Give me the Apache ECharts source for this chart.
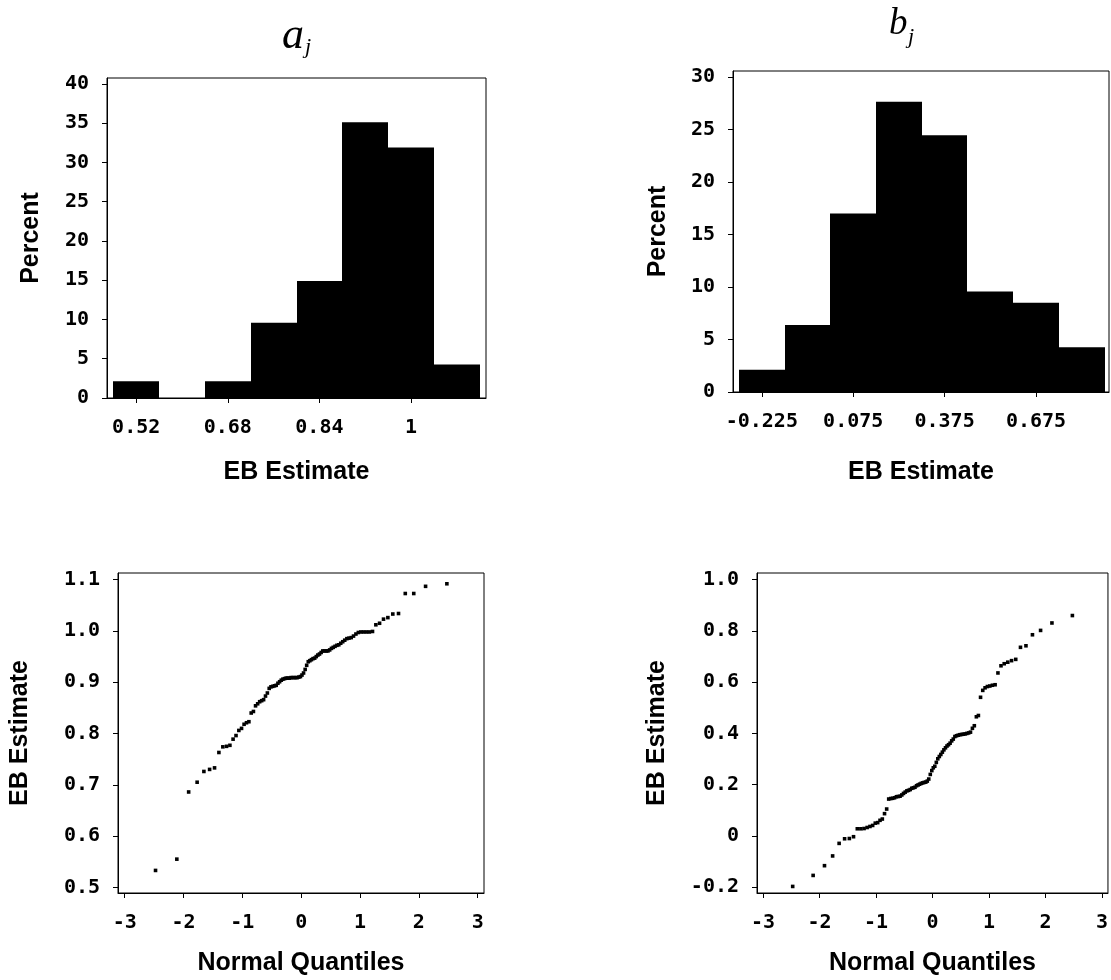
<!DOCTYPE html>
<html>
<head>
<meta charset="utf-8">
<script src="https://cdn.jsdelivr.net/npm/echarts@6/dist/echarts.min.js"></script>
<style>
html,body{margin:0;padding:0;background:#fff;}
#chart{width:1111px;height:980px;}
</style>
</head>
<body>
<div id="chart"></div>
<script>
// ---------- data ----------
var aBinEdges = [0.48, 0.56, 0.64, 0.72, 0.80, 0.88, 0.96, 1.04, 1.12];
var aPercent = [2.13, 0, 2.13, 9.57, 14.89, 35.11, 31.91, 4.26];
var aTicks = [0.52, 0.68, 0.84, 1];

var bBinEdges = [-0.30, -0.15, 0.00, 0.15, 0.30, 0.45, 0.60, 0.75, 0.90];
var bPercent = [2.13, 6.38, 17.02, 27.66, 24.47, 9.57, 8.51, 4.26];
var bTicks = [-0.225, 0.075, 0.375, 0.675];

var aPctTicks = [0, 5, 10, 15, 20, 25, 30, 35, 40];
var bPctTicks = [0, 5, 10, 15, 20, 25, 30];

var normalQuantiles = [
 -2.476, -2.114, -1.913, -1.769, -1.654, -1.557, -1.473, -1.399, -1.332, -1.269,
 -1.212, -1.158, -1.108, -1.060, -1.014, -0.971, -0.930, -0.889, -0.850, -0.812,
 -0.776, -0.740, -0.706, -0.672, -0.639, -0.607, -0.575, -0.544, -0.514, -0.484,
 -0.454, -0.425, -0.396, -0.367, -0.339, -0.311, -0.283, -0.256, -0.229, -0.201,
 -0.174, -0.147, -0.120, -0.093, -0.067, -0.040, -0.013,
  0.013, 0.040, 0.067, 0.093, 0.120, 0.147, 0.174, 0.201, 0.229, 0.256,
  0.283, 0.311, 0.339, 0.367, 0.396, 0.425, 0.454, 0.484, 0.514, 0.544,
  0.575, 0.607, 0.639, 0.672, 0.706, 0.740, 0.776, 0.812, 0.850, 0.889,
  0.930, 0.971, 1.014, 1.060, 1.108, 1.158, 1.212, 1.269, 1.332, 1.399,
  1.473, 1.557, 1.654, 1.769, 1.913, 2.114, 2.476
];

var aSorted = [
 0.533, 0.555, 0.686, 0.705, 0.726, 0.730, 0.733, 0.763, 0.774, 0.775,
 0.777, 0.789, 0.796, 0.806, 0.810, 0.818, 0.821, 0.823, 0.840, 0.843,
 0.854, 0.858, 0.862, 0.864, 0.866, 0.873, 0.879, 0.888, 0.891, 0.892,
 0.893, 0.894, 0.898, 0.901, 0.904, 0.906, 0.907, 0.908, 0.908, 0.908,
 0.909, 0.909, 0.909, 0.909, 0.909, 0.910, 0.911, 0.914, 0.918, 0.925,
 0.933, 0.940, 0.942, 0.944, 0.946, 0.947, 0.950, 0.953, 0.955, 0.958,
 0.961, 0.961, 0.961, 0.961, 0.963, 0.966, 0.968, 0.970, 0.972, 0.973,
 0.976, 0.979, 0.982, 0.985, 0.986, 0.987, 0.990, 0.994, 0.997, 0.998,
 0.998, 0.998, 0.998, 0.999, 1.012, 1.015, 1.023, 1.026, 1.033, 1.034,
 1.073, 1.073, 1.087, 1.092
];

var bSorted = [
 -0.197, -0.154, -0.116, -0.078, -0.029, -0.011, -0.010, -0.003, 0.028, 0.028,
  0.029, 0.033, 0.037, 0.041, 0.050, 0.052, 0.061, 0.066, 0.087, 0.105,
  0.144, 0.146, 0.147, 0.149, 0.153, 0.154, 0.155, 0.160, 0.166, 0.171,
  0.176, 0.178, 0.181, 0.186, 0.188, 0.190, 0.196, 0.199, 0.202, 0.205,
  0.207, 0.209, 0.210, 0.214, 0.222, 0.240, 0.255, 0.266, 0.272, 0.287,
  0.301, 0.310, 0.318, 0.327, 0.336, 0.344, 0.351, 0.356, 0.362, 0.371,
  0.378, 0.388, 0.391, 0.393, 0.395, 0.396, 0.397, 0.398, 0.400, 0.402,
  0.405, 0.420, 0.430, 0.465, 0.470, 0.541, 0.568, 0.578, 0.583, 0.585,
  0.588, 0.590, 0.636, 0.664, 0.672, 0.678, 0.684, 0.689, 0.736, 0.742,
  0.785, 0.802, 0.831, 0.860
];

var qTicks = [-3, -2, -1, 0, 1, 2, 3];
var aEstTicks = [0.5, 0.6, 0.7, 0.8, 0.9, 1.0, 1.1];
var bEstTicks = [-0.2, 0, 0.2, 0.4, 0.6, 0.8, 1.0];

// ---------- build ----------
function binData(edges, pct) {
  var out = [];
  for (var i = 0; i < pct.length; i++) out.push([edges[i], edges[i + 1], pct[i]]);
  return out;
}
function pairs(xs, ys) {
  var out = [];
  for (var i = 0; i < xs.length; i++) out.push([xs[i], ys[i]]);
  return out;
}
function histRender(params, api) {
  var lo = api.value(0), hi = api.value(1), h = api.value(2);
  if (!h) return null;
  var p0 = api.coord([lo, h]);
  var p1 = api.coord([hi, 0]);
  var x0 = Math.round(p0[0]), x1 = Math.round(p1[0]);
  return {
    type: 'rect',
    shape: { x: x0, y: p0[1], width: x1 - x0, height: p1[1] - p0[1] },
    style: { fill: '#000' }
  };
}

var tickFont = { fontFamily: '"DejaVu Sans Mono", monospace', fontWeight: 'bold', fontSize: 20, color: '#000' };
var nameFont = { fontFamily: '"Liberation Sans", Arial, sans-serif', fontWeight: 'bold', fontSize: 25, color: '#000' };

function xAx(gi, min, max, ticks, fmt, nameGap, name) {
  return {
    type: 'value', gridIndex: gi, min: min, max: max,
    name: name, nameLocation: 'middle', nameGap: nameGap, nameTextStyle: nameFont,
    axisLine: { show: true, onZero: false, lineStyle: { color: '#000', width: 1 } },
    axisTick: { show: true, inside: false, length: 5, customValues: ticks, lineStyle: { color: '#000' } },
    axisLabel: Object.assign({ show: true, margin: 20, customValues: ticks, formatter: fmt }, tickFont),
    splitLine: { show: false }
  };
}
function yAx(gi, min, max, ticks, fmt, nameGap, name) {
  return {
    type: 'value', gridIndex: gi, min: min, max: max,
    name: name, nameLocation: 'middle', nameGap: nameGap, nameTextStyle: nameFont, nameRotate: 90,
    axisLine: { show: true, onZero: false, lineStyle: { color: '#000', width: 1 } },
    axisTick: { show: true, inside: false, length: 5, customValues: ticks, lineStyle: { color: '#000' } },
    axisLabel: Object.assign({ show: true, margin: 18, customValues: ticks, formatter: fmt }, tickFont),
    splitLine: { show: false }
  };
}
function fmtA(v) { return v === 1 ? '1' : v.toFixed(2); }
function fmtB(v) { return v.toFixed(3); }
function fmtInt(v) { return String(Math.round(v)); }
function fmt1(v) { return v.toFixed(1); }
function fmtB1(v) { return Math.abs(v) < 1e-9 ? '0' : v.toFixed(1); }

var gridStyle = { show: true, borderColor: '#000', borderWidth: 1, backgroundColor: 'transparent' };

var option = {
  animation: false,
  backgroundColor: '#fff',
  grid: [
    Object.assign({ left: 107, top: 78, width: 379, height: 320 }, gridStyle),
    Object.assign({ left: 733, top: 71, width: 376, height: 321 }, gridStyle),
    Object.assign({ left: 118, top: 573, width: 366, height: 320 }, gridStyle),
    Object.assign({ left: 757, top: 573, width: 351, height: 320 }, gridStyle)
  ],
  xAxis: [
    xAx(0, 0.469, 1.131, aTicks, fmtA, 62, 'EB Estimate'),
    xAx(1, -0.3196, 0.9147, bTicks, fmtB, 68, 'EB Estimate'),
    xAx(2, -3.114, 3.107, qTicks, fmtInt, 58, 'Normal Quantiles'),
    xAx(3, -3.108, 3.106, qTicks, fmtInt, 58, 'Normal Quantiles')
  ],
  yAxis: [
    yAx(0, 0, 40.76, aPctTicks, fmtInt, 63, 'Percent'),
    yAx(1, 0, 30.6, bPctTicks, fmtInt, 62, 'Percent'),
    yAx(2, 0.489, 1.113, aEstTicks, fmt1, 85, 'EB Estimate'),
    yAx(3, -0.2226, 1.026, bEstTicks, fmtB1, 87, 'EB Estimate')
  ],
  series: [
    { type: 'custom', xAxisIndex: 0, yAxisIndex: 0, renderItem: histRender,
      encode: { x: [0, 1], y: 2 }, data: binData(aBinEdges, aPercent) },
    { type: 'custom', xAxisIndex: 1, yAxisIndex: 1, renderItem: histRender,
      encode: { x: [0, 1], y: 2 }, data: binData(bBinEdges, bPercent) },
    { type: 'scatter', xAxisIndex: 2, yAxisIndex: 2, symbol: 'rect', symbolSize: 3.6,
      itemStyle: { color: '#000', opacity: 1 }, data: pairs(normalQuantiles, aSorted) },
    { type: 'scatter', xAxisIndex: 3, yAxisIndex: 3, symbol: 'rect', symbolSize: 3.6,
      itemStyle: { color: '#000', opacity: 1 }, data: pairs(normalQuantiles, bSorted) }
  ],
  graphic: [
    { type: 'text', left: 282, top: 14, style: { text: 'a', font: 'italic 44px "Liberation Serif", serif', fill: '#000' } },
    { type: 'text', left: 305, top: 36, style: { text: 'j', font: 'italic 22px "Liberation Serif", serif', fill: '#000' } },
    { type: 'text', left: 889, top: 6, style: { text: 'b', font: 'italic 37px "Liberation Serif", serif', fill: '#000' } },
    { type: 'text', left: 908, top: 26, style: { text: 'j', font: 'italic 22px "Liberation Serif", serif', fill: '#000' } }
  ]
};

var chart = echarts.init(document.getElementById('chart'));
chart.setOption(option);
</script>
</body>
</html>
